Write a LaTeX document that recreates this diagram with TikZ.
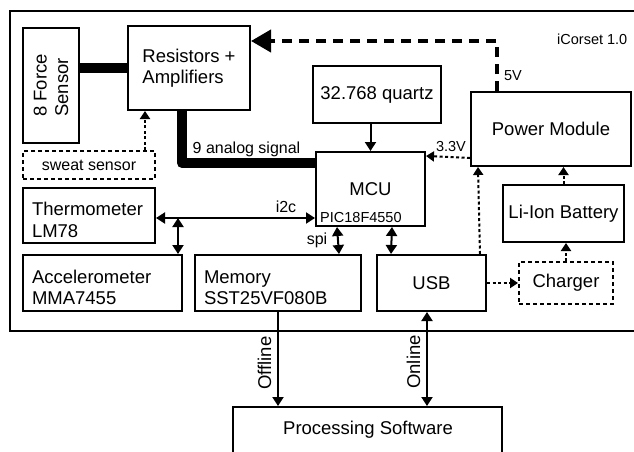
\documentclass[tikz,border=0pt]{standalone}
\usepackage{fontspec}
\setmainfont{Liberation Sans}
\usetikzlibrary{arrows.meta}
\newcommand\fbig{\fontsize{18.5}{21.5}\selectfont}
\newcommand\fmid{\fontsize{16}{19}\selectfont}
\newcommand\fsml{\fontsize{14.5}{17}\selectfont}
\begin{document}
\begin{tikzpicture}[x=1pt,y=-1pt,
  box/.style={draw, line width=2pt, inner sep=0pt, font=\fbig},
  dbox/.style={box, dash pattern=on 4pt off 3pt},
  lbl/.style={inner sep=0pt},
  arr/.style={line width=2pt, -{Triangle[length=9pt,width=11pt]}},
  darr/.style={line width=2pt, {Triangle[length=9pt,width=11pt]}-{Triangle[length=9pt,width=11pt]}},
  dotarr/.style={line width=2pt, dash pattern=on 3pt off 2.5pt, -{Triangle[length=8pt,width=10pt]}},
  bigdash/.style={line width=4pt, dash pattern=on 10pt off 7pt, -{Triangle[length=20pt,width=22pt]}},
  thickl/.style={line width=10pt, line join=round}
]
\useasboundingbox (0,0) rectangle (634,452);
\fill[white] (0,0) rectangle (634,452);
\draw[line width=2pt] (10,11) rectangle (645,331);

% boxes
\node[box, minimum width=56pt, minimum height=115pt] (force) at (51,85.5) {};
\node[lbl, rotate=90, align=left, font=\fbig] (forcet) at (51,85.5) {8 Force\\Sensor};
\node[box, minimum width=122pt, minimum height=84pt, align=left] (res) at (189,68) {Resistors +\\Amplifiers};
\node[dbox, minimum width=132pt, minimum height=28pt, font=\fmid] (sweat) at (89,165) {sweat sensor};
\node[box, minimum width=128pt, minimum height=57pt] (quartz) at (377,94.5) {32.768 quartz};
\node[box, minimum width=109pt, minimum height=74pt] (mcu) at (370.5,189) {MCU};
\node[lbl, anchor=west, font=\fsml] (pic) at (320,217.5) {PIC18F4550};
\node[box, minimum width=160pt, minimum height=74pt] (power) at (551,129) {Power Module};
\node[box, minimum width=121pt, minimum height=57pt] (batt) at (563.5,213.5) {Li-Ion Battery};
\node[dbox, minimum width=94pt, minimum height=42pt] (charger) at (566,283) {Charger};
\node[box, minimum width=109pt, minimum height=56pt] (usb) at (431.5,283) {USB};
\node[box, minimum width=132pt, minimum height=55pt, align=left, text width=114pt] (therm) at (89,215.5) {\rule{0pt}{22pt}Thermometer\\LM78};
\node[box, minimum width=159pt, minimum height=56pt, align=left, text width=141pt] (accel) at (102.5,283) {\rule{0pt}{22pt}Accelerometer\\MMA7455};
\node[box, minimum width=166pt, minimum height=56pt, align=left, text width=148pt] (mem) at (278,283) {\rule{0pt}{22pt}Memory\\SST25VF080B};
\node[box, minimum width=269pt, minimum height=48pt] (proc) at (367.5,431) {};
\node[lbl, font=\fbig] (proct) at (368,430) {Processing Software};

% connectors
\draw[thickl] (force.north east |- res.west) -- (res.west);
\draw[thickl] ([xshift=-7pt]res.south) |- ([yshift=26pt]mcu.west);
\node[lbl, font=\fmid] (ana) at (246.5,149) {9 analog signal};
\draw[dotarr] ([xshift=56pt]sweat.north) -- ([xshift=56pt]sweat.north |- res.south);
\draw[bigdash] ([xshift=-54pt]power.north) |- ([yshift=27pt]res.east);
\node[lbl, font=\fsml] (v5) at (513,76) {5V};
\node[lbl, font=\fsml, anchor=west] (ico) at (557,39) {iCorset 1.0};
\draw[arr] (quartz.south -| mcu.north) -- (mcu.north);
\draw[dotarr] ([yshift=9pt]power.south west) -- ([yshift=-5pt]mcu.north east);
\node[lbl, font=\fsml] (v33) at (451,147) {3.3V};
\draw[dotarr] (batt.north) -- (batt.north |- power.south);
\draw[dotarr] (charger.north) -- (charger.north |- batt.south);
\draw[dotarr] (usb.east) -- (charger.west);
\draw[dotarr] ([xshift=-7pt]usb.north east) -- ([xshift=8pt]power.south west);
\draw[darr] ([xshift=21.5pt]mcu.south) -- ([xshift=15pt]usb.north west);
\draw[darr] ([xshift=22pt]mcu.south west) -- ([xshift=-23pt]mem.north east);
\node[lbl, font=\fmid] (spi) at (317,240) {spi};
\coordinate (i2cR) at ([yshift=9pt]mcu.south west);
\draw[darr] (therm.east |- i2cR) -- (i2cR);
\node[lbl, font=\fmid] (i2c) at (286,207) {i2c};
\coordinate (accTop) at ([xshift=-5pt]accel.north east);
\draw[darr] (accTop) -- (accTop |- i2cR);
\draw[arr] (mem.south) -- (mem.south |- proc.north);
\node[lbl, rotate=90, font=\fbig] (off) at (264.5,363) {Offline};
\coordinate (usbB) at ([xshift=-4.5pt]usb.south);
\draw[darr] (usbB) -- (usbB |- proc.north);
\node[lbl, rotate=90, font=\fbig] (on) at (413.5,362) {Online};
\end{tikzpicture}
\end{document}
